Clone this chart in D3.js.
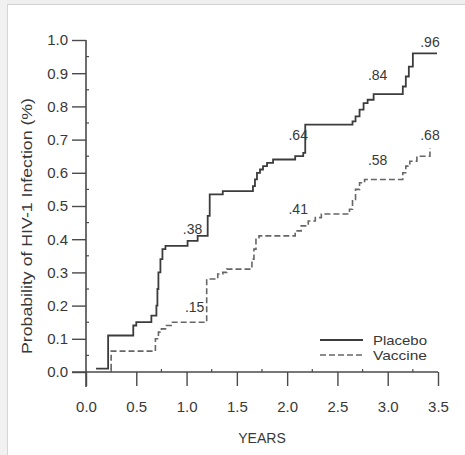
<!DOCTYPE html>
<html>
<head>
<meta charset="utf-8">
<script src="https://cdn.jsdelivr.net/npm/d3@7"></script>
<style>
  body { margin: 0; background: #fff; }
  svg text { font-family: "Liberation Sans", Arial, sans-serif; fill: #383838; }
</style>
</head>
<body>
<div id="chart"></div>
<script>
// step points (years, cumulative probability)
const placeboT = [0.10, 0.22, 0.47, 0.50, 0.65, 0.70, 0.71, 0.72, 0.74, 0.76, 0.79, 1.01, 1.11, 1.21, 1.23, 1.36,
  1.66, 1.68, 1.70, 1.73, 1.76, 1.80, 1.86, 2.08, 2.16, 2.18, 2.65, 2.68, 2.72, 2.76, 2.80, 2.86, 3.15, 3.18, 3.21, 3.25, 3.49];
const placeboP = [0.01, 0.11, 0.14, 0.15, 0.17, 0.20, 0.25, 0.30, 0.34, 0.37, 0.38, 0.395, 0.41, 0.47, 0.535, 0.545,
  0.56, 0.58, 0.60, 0.61, 0.62, 0.63, 0.64, 0.65, 0.66, 0.745, 0.755, 0.77, 0.79, 0.81, 0.82, 0.837, 0.86, 0.89, 0.92, 0.96, 0.96];

const vaccineT = [0.24, 0.25, 0.69, 0.72, 0.75, 0.80, 0.86, 1.20, 1.31, 1.36, 1.40, 1.65, 1.67, 1.69, 1.72,
  2.08, 2.14, 2.21, 2.28, 2.34, 2.62, 2.65, 2.68, 2.72, 2.77, 3.15, 3.18, 3.22, 3.29, 3.42];
const vaccineP = [0.01, 0.063, 0.10, 0.12, 0.13, 0.14, 0.15, 0.28, 0.295, 0.30, 0.31, 0.34, 0.37, 0.40, 0.41,
  0.425, 0.44, 0.455, 0.465, 0.476, 0.49, 0.52, 0.55, 0.57, 0.58, 0.60, 0.62, 0.635, 0.65, 0.675];

const noteText = [".38", ".15", ".41", ".64", ".58", ".84", ".68", ".96"];
const noteT = [1.06, 1.08, 2.11, 2.11, 2.90, 2.90, 3.42, 3.42];
const noteP = [0.43, 0.195, 0.49, 0.715, 0.64, 0.895, 0.715, 0.995];

const xTicks = [0, 0.5, 1.0, 1.5, 2.0, 2.5, 3.0, 3.5];
const yTicks = [0, 0.1, 0.2, 0.3, 0.4, 0.5, 0.6, 0.7, 0.8, 0.9, 1.0];
const seriesNames = ["Placebo", "Vaccine"];

const W = 465, H = 455;
const svg = d3.select("#chart").append("svg").attr("width", W).attr("height", H);

// scan frame on top / left
svg.append("rect").attr("x", 0).attr("y", 0).attr("width", W).attr("height", 4).attr("fill", "#efefef");
svg.append("rect").attr("x", 0).attr("y", 0).attr("width", 7).attr("height", H).attr("fill", "#f1f1f1");
svg.append("line").attr("x1", 7).attr("x2", W).attr("y1", 4.5).attr("y2", 4.5).attr("stroke", "#d2d2d2");
svg.append("line").attr("x1", 7.5).attr("x2", 7.5).attr("y1", 4).attr("y2", H).attr("stroke", "#d6d6d6");

const x = d3.scaleLinear().domain([0, 3.5]).range([86, 438]);
const y = d3.scaleLinear().domain([0, 1]).range([372, 40]);

const axisColor = "#4a4a4a";

// y axis
const gy = svg.append("g").attr("transform", "translate(" + x(0) + ",0)")
  .call(d3.axisLeft(y).tickValues(yTicks).tickFormat(d3.format(".1f")).tickSize(14).tickPadding(4));
gy.select(".domain").remove();
gy.selectAll("line").attr("stroke", axisColor).attr("stroke-width", 1.4);
gy.selectAll("text").attr("font-size", 15).style("font-family", null).attr("fill", "#383838");

// x axis
const gx = svg.append("g").attr("transform", "translate(0," + y(0) + ")")
  .call(d3.axisBottom(x).tickValues(xTicks).tickFormat(d3.format(".1f")).tickSize(14).tickPadding(15));
gx.select(".domain").remove();
gx.selectAll("line").attr("stroke", axisColor).attr("stroke-width", 1.4);
gx.selectAll("text").attr("font-size", 15).style("font-family", null).attr("fill", "#383838");

// axis lines (crossing at origin)
svg.append("line").attr("x1", x(0)).attr("x2", x(0)).attr("y1", y(1)).attr("y2", y(0) + 15)
  .attr("stroke", axisColor).attr("stroke-width", 1.6);
svg.append("line").attr("x1", x(0) - 14).attr("x2", x(3.5)).attr("y1", y(0)).attr("y2", y(0))
  .attr("stroke", axisColor).attr("stroke-width", 1.6);

// minor ticks
svg.selectAll(".ymin").data(d3.range(0.05, 1, 0.1)).enter().append("line")
  .attr("x1", x(0)).attr("x2", x(0) + 3).attr("y1", d => y(d)).attr("y2", d => y(d))
  .attr("stroke", axisColor).attr("stroke-width", 1.2);
svg.selectAll(".xmin").data(d3.range(0.25, 3.5, 0.5)).enter().append("line")
  .attr("x1", d => x(d)).attr("x2", d => x(d)).attr("y1", y(0)).attr("y2", y(0) - 3)
  .attr("stroke", axisColor).attr("stroke-width", 1.2);

// axis titles
svg.append("text").attr("x", x(1.75)).attr("y", 443).attr("text-anchor", "middle")
  .attr("font-size", 14).text("YEARS");
svg.append("text").attr("transform", "translate(32,226) rotate(-90)").attr("text-anchor", "middle")
  .attr("font-size", 14).attr("textLength", 256).attr("lengthAdjust", "spacingAndGlyphs")
  .text("Probability of HIV-1 Infection (%)");

// step curves
const line = d3.line().x(d => x(d[0])).y(d => y(d[1])).curve(d3.curveStepAfter);
const placebo = placeboT.map((t, i) => [t, placeboP[i]]);
const vaccine = vaccineT.map((t, i) => [t, vaccineP[i]]);

svg.append("path").datum(vaccine).attr("d", line).attr("fill", "none")
  .attr("stroke", "#666").attr("stroke-width", 1.6).attr("stroke-dasharray", "6,3");
svg.append("path").datum(placebo).attr("d", line).attr("fill", "none")
  .attr("stroke", "#3c3c3c").attr("stroke-width", 1.8);

// value notes
svg.selectAll(".note").data(noteText).enter().append("text")
  .attr("x", (d, i) => x(noteT[i])).attr("y", (d, i) => y(noteP[i]))
  .attr("text-anchor", "middle").attr("dominant-baseline", "central")
  .attr("font-size", 14).text(d => d);

// legend
const leg = svg.append("g").attr("transform", "translate(320,340)");
seriesNames.forEach((name, i) => {
  leg.append("line").attr("x1", 0).attr("x2", 43).attr("y1", i * 15).attr("y2", i * 15)
    .attr("stroke", i ? "#666" : "#3c3c3c").attr("stroke-width", i ? 1.6 : 1.8)
    .attr("stroke-dasharray", i ? "6,3" : null);
  leg.append("text").attr("x", 53).attr("y", i * 15 + 5).attr("font-size", 13.5)
    .attr("textLength", 54).attr("lengthAdjust", "spacingAndGlyphs").text(name);
});
</script>
</body>
</html>
